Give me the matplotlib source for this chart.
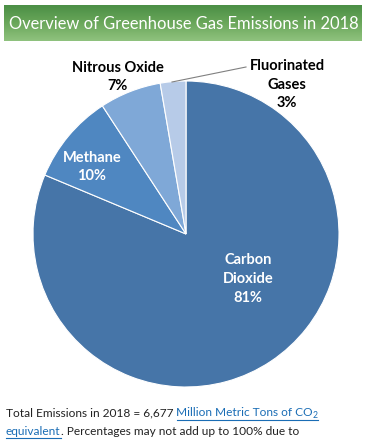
import matplotlib
matplotlib.use("Agg")
import matplotlib.pyplot as plt
import numpy as np
from matplotlib.colors import LinearSegmentedColormap

# ---- data ----
gases = ["Carbon\nDioxide", "Methane", "Nitrous Oxide", "Fluorinated\nGases"]
shares = [81.3, 9.5, 6.5, 2.7]
pct_labels = ["81%", "10%", "7%", "3%"]
colors = ["#4675a8", "#4f87c1", "#7fa8d7", "#b7cbe8"]
title = "Overview of Greenhouse Gas Emissions in 2018"
total_text = "Total Emissions in 2018 = 6,677 "
link1 = "Million Metric Tons of CO"
link2 = "equivalent"
rest_text = ". Percentages may not add up to 100% due to"

W, H = 365, 443
fig = plt.figure(figsize=(W / 100, H / 100), dpi=100)
fig.patch.set_facecolor("white")

# pie axes: centre (186,234) px, radius 153 px
cx, cy, r = 186, 234, 153
pax = fig.add_axes([(cx - r) / W, (H - cy - r) / H, 2 * r / W, 2 * r / H])
pax.pie(shares, colors=colors, startangle=90, counterclock=False,
        wedgeprops=dict(edgecolor="white", linewidth=0.8))
pax.set_xlim(-1, 1)
pax.set_ylim(-1, 1)
pax.set_aspect("auto")
pax.axis("off")

# overlay axes in pixel coordinates
ov = fig.add_axes([0, 0, 1, 1], zorder=5)
ov.set_xlim(0, W)
ov.set_ylim(H, 0)
ov.axis("off")
ov.patch.set_alpha(0)

# banner gradient
cmap = LinearSegmentedColormap.from_list("g", ["#4b8f46", "#6aa75a", "#8fc27e"])
grad = np.linspace(0, 1, 64).reshape(-1, 1)
ov.imshow(grad, cmap=cmap, extent=[4, 362, 41, 5], aspect="auto", zorder=1)
ov.set_xlim(0, W)
ov.set_ylim(H, 0)
ov.text(184, 23.5, title, color="white", fontsize=11.9, family="Lato",
        ha="center", va="center", zorder=3)

lab_kw = dict(family="Lato", fontweight="bold", fontsize=10.5, ha="center",
              va="center", linespacing=1.42)
# inside labels
ov.text(248, 279, gases[0] + "\n" + pct_labels[0], color="white", **lab_kw)
ov.text(92, 167, gases[1] + "\n" + pct_labels[1], color="white", **lab_kw)
# outside labels
ov.text(118, 77, gases[2] + "\n" + pct_labels[2], color="black", **lab_kw)
ov.text(287, 84.5, gases[3] + "\n" + pct_labels[3], color="black", **lab_kw)
ov.plot([172, 246], [82, 67], color="#808080", lw=0.8, zorder=4)

# footer with link styling
fig.canvas.draw()
renderer = fig.canvas.get_renderer()
inv = ov.transData.inverted()
ft = dict(family="Lato", fontsize=8.6, va="baseline", ha="left")
link_color = "#1a6db5"


def put(x, y, s, color, size=None):
    kw = dict(ft)
    if size:
        kw["fontsize"] = size
    t = ov.text(x, y, s, color=color, **kw)
    bb = t.get_window_extent(renderer)
    (x0, _), (x1, _) = inv.transform([[bb.x0, bb.y0], [bb.x1, bb.y1]])
    return t, x0, x1


y1, y2 = 416, 435
_, _, x = put(6, y1, total_text, "#222222")
_, ux0, x = put(x, y1, link1, link_color)
_, _, x = put(x, y1 + 2.5, "2", link_color, size=6.2)
ov.plot([ux0, x], [y1 + 3.5, y1 + 3.5], color=link_color, lw=0.8)
_, ux0, x = put(6, y2, link2, link_color)
ov.plot([ux0, x], [y2 + 3, y2 + 3], color=link_color, lw=0.8)
put(x, y2, rest_text, "#222222")

fig.savefig("out.png", dpi=100)
